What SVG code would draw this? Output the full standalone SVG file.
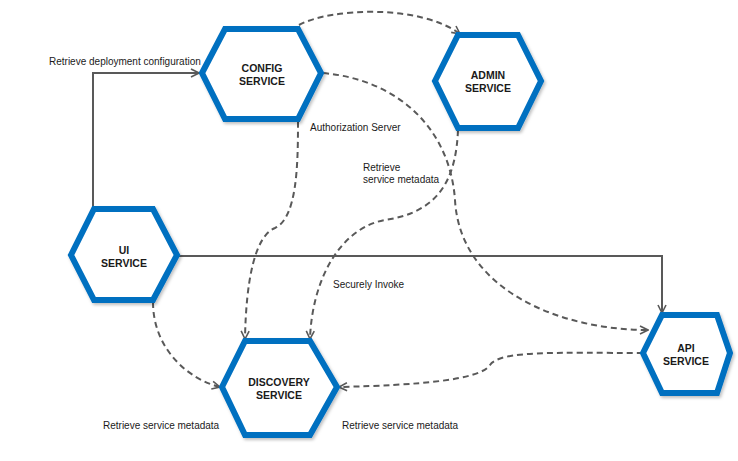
<svg xmlns="http://www.w3.org/2000/svg" width="738" height="461" viewBox="0 0 738 461">
<style>
.hex{fill:#ffffff;stroke:#0070C0;stroke-width:6;stroke-linejoin:miter;filter:url(#sh)}
.nt{font-family:"Liberation Sans",Arial,sans-serif;font-weight:bold;font-size:10.5px;fill:#1a1a1a;text-anchor:middle}
.lb{font-family:"Liberation Sans",Arial,sans-serif;font-size:10px;fill:#1a1a1a}
.solid{fill:none;stroke:#595959;stroke-width:2;marker-end:url(#arr)}
.dash{fill:none;stroke:#595959;stroke-width:2;stroke-dasharray:6 4;marker-end:url(#arr)}
</style>
<defs>
<filter id="sh" x="-20%" y="-20%" width="140%" height="140%">
<feDropShadow dx="1.5" dy="2" stdDeviation="1.5" flood-color="#000" flood-opacity="0.25"/>
</filter>
<marker id="arr" viewBox="0 0 10 10" refX="9" refY="5" markerWidth="10" markerHeight="10" markerUnits="userSpaceOnUse" orient="auto">
<path d="M1,1 L9,5 L1,9" fill="none" stroke="#595959" stroke-width="1.6"/>
</marker>
</defs>
<rect width="738" height="461" fill="#ffffff"/>
<g id="connectors">
<path class="solid" d="M93,209 L93,73 L199,73"/>
<path class="solid" d="M177,256 L662,256 L662,313"/>
<path class="dash" d="M299,25 C330,8 420,4 460,34"/>
<path class="dash" d="M298,122 C298,165 297,218 275,228 C255,236 246,280 245,339"/>
<path class="dash" d="M458,130 C456,178 440,212 385,220 C340,228 312,280 310,339"/>
<path class="dash" d="M323,73 C400,80 450,130 455,200 C460,290 560,330 648,330"/>
<path class="dash" d="M643,353 C560,353 500,350 490,365 C480,380 420,385 339,387"/>
<path class="dash" d="M153,302 C153,350 190,380 220,387"/>
</g>
<g id="config">
<polygon class="hex" points="202,73 225,29 298,29 321,73 298,119 225,119"/>
<text class="nt" x="262" y="72">CONFIG</text>
<text class="nt" x="262" y="85">SERVICE</text>
</g>
<g id="admin">
<polygon class="hex" points="435,81 458,35 518,35 541,81 518,128 458,128"/>
<text class="nt" x="488" y="79">ADMIN</text>
<text class="nt" x="488" y="92">SERVICE</text>
</g>
<g id="ui">
<polygon class="hex" points="71,255 94,209 153,209 177,255 153,300 94,300"/>
<text class="nt" x="124" y="254">UI</text>
<text class="nt" x="124" y="267">SERVICE</text>
</g>
<g id="discovery">
<polygon class="hex" points="222,387 245,341 310,341 337,387 310,435 245,435"/>
<text class="nt" x="279" y="386">DISCOVERY</text>
<text class="nt" x="279" y="399">SERVICE</text>
</g>
<g id="api">
<polygon class="hex" points="643,353 662,315 717,315 730,353 717,393 662,393"/>
<text class="nt" x="686" y="352">API</text>
<text class="nt" x="686" y="365">SERVICE</text>
</g>
<g id="labels">
<text class="lb" x="49" y="65">Retrieve deployment configuration</text>
<text class="lb" x="310" y="131">Authorization Server</text>
<text class="lb" x="363" y="171">Retrieve</text>
<text class="lb" x="363" y="183">service metadata</text>
<text class="lb" x="333" y="288">Securely Invoke</text>
<text class="lb" x="103" y="429">Retrieve service metadata</text>
<text class="lb" x="342" y="429">Retrieve service metadata</text>
</g>
</svg>
